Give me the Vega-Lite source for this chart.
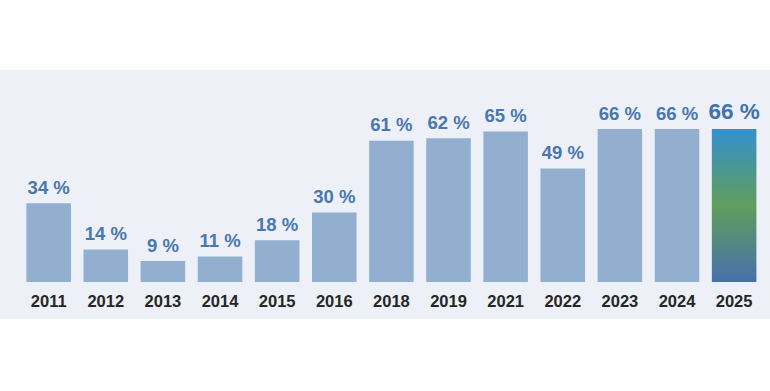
{
  "$schema": "https://vega.github.io/schema/vega-lite/v6.json",
  "width": 770,
  "height": 249,
  "autosize": {"type": "none"},
  "padding": {"top": 70, "left": 0, "right": 0, "bottom": 72},
  "background": "#ffffff",
  "config": {
    "view": {"fill": "#edf0f7", "stroke": null},
    "font": "Liberation Sans"
  },
  "data": {
    "values": [
      {"year": "2011", "value": 34, "label": "34 %"},
      {"year": "2012", "value": 14, "label": "14 %"},
      {"year": "2013", "value": 9, "label": "9 %"},
      {"year": "2014", "value": 11, "label": "11 %"},
      {"year": "2015", "value": 18, "label": "18 %"},
      {"year": "2016", "value": 30, "label": "30 %"},
      {"year": "2018", "value": 61, "label": "61 %"},
      {"year": "2019", "value": 62, "label": "62 %"},
      {"year": "2021", "value": 65, "label": "65 %"},
      {"year": "2022", "value": 49, "label": "49 %"},
      {"year": "2023", "value": 66, "label": "66 %"},
      {"year": "2024", "value": 66, "label": "66 %"},
      {"year": "2025", "value": 66, "label": "66 %"}
    ]
  },
  "encoding": {
    "x": {
      "field": "year",
      "type": "nominal",
      "sort": null,
      "axis": null,
      "scale": {"paddingInner": 0.22, "paddingOuter": 0.35, "align": 0.66}
    }
  },
  "layer": [
    {
      "transform": [{"filter": "datum.year !== '2025'"}],
      "mark": {"type": "bar", "color": "#93afd0"},
      "encoding": {
        "y": {"field": "value", "type": "quantitative", "axis": null, "scale": {"domain": [-16, 91.5], "nice": false, "zero": false}},
        "y2": {"datum": 0}
      }
    },
    {
      "transform": [{"filter": "datum.year === '2025'"}],
      "mark": {
        "type": "bar",
        "color": {
          "gradient": "linear",
          "x1": 0, "y1": 0, "x2": 0, "y2": 1,
          "stops": [
            {"offset": 0, "color": "#3590cc"},
            {"offset": 0.5, "color": "#5f9e5c"},
            {"offset": 1, "color": "#4770ab"}
          ]
        }
      },
      "encoding": {
        "y": {"field": "value", "type": "quantitative"},
        "y2": {"datum": 0}
      }
    },
    {
      "transform": [{"filter": "datum.year !== '2025'"}],
      "mark": {"type": "text", "baseline": "alphabetic", "dy": -9.5, "fontSize": 18.5, "fontWeight": "bold", "color": "#4a77ae"},
      "encoding": {
        "y": {"field": "value", "type": "quantitative"},
        "text": {"field": "label"}
      }
    },
    {
      "transform": [{"filter": "datum.year === '2025'"}],
      "mark": {"type": "text", "baseline": "alphabetic", "dy": -10.5, "fontSize": 22.5, "fontWeight": "bold", "color": "#3f72ab"},
      "encoding": {
        "y": {"field": "value", "type": "quantitative"},
        "text": {"field": "label"}
      }
    },
    {
      "mark": {"type": "text", "baseline": "alphabetic", "fontSize": 16.5, "fontWeight": "bold", "color": "#262626"},
      "encoding": {
        "y": {"datum": -10.8},
        "text": {"field": "year"}
      }
    }
  ]
}
